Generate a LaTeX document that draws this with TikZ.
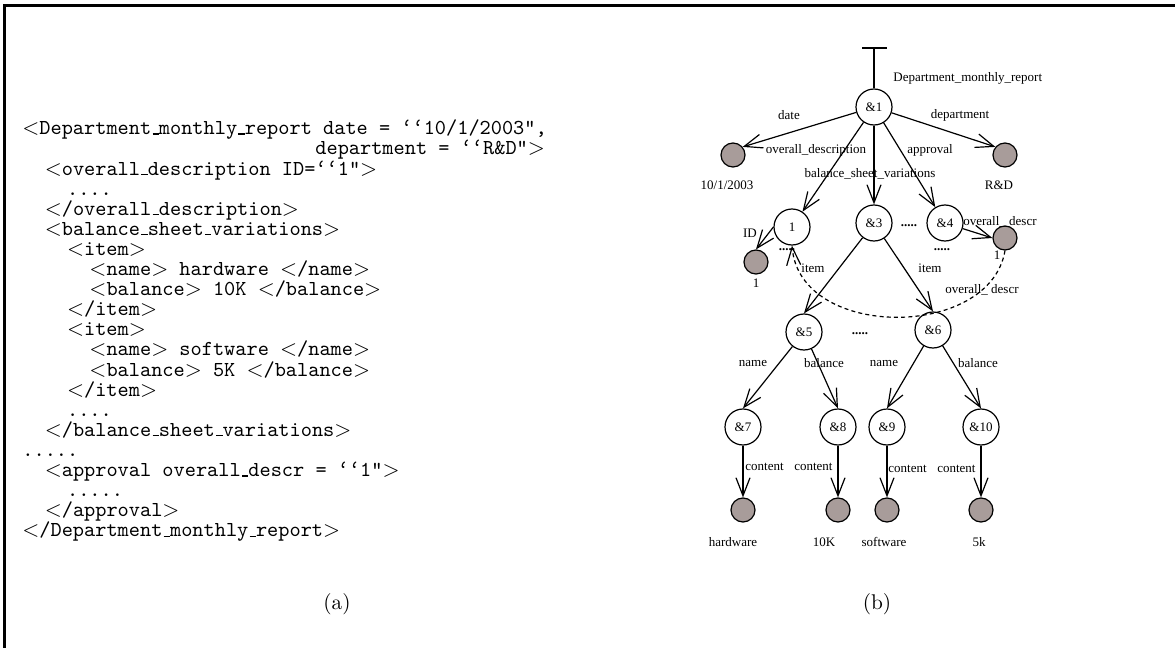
\documentclass[tikz,border=0pt]{standalone}
\usepackage{fontspec}
\usetikzlibrary{arrows.meta}

\newfontfamily\treeserif{Liberation Serif}
\newcommand\treefont{\treeserif\fontsize{6.5pt}{7.5pt}\selectfont}
\newcommand\codefont{\ttfamily\fontsize{10.65pt}{12pt}\selectfont}
\newcommand\capfont{\rmfamily\fontsize{10.65pt}{12pt}\selectfont}
% low rule underscore, as in the OT1 typewriter listing
\newcommand\usc{\leavevmode\kern.06em\vbox{\hrule width.3em height .6pt}}
\definecolor{valgrey}{RGB}{168,156,154}

\tikzset{
  codeline/.style={anchor=base west, inner sep=0pt, font=\codefont},
  obj/.style={circle, draw, line width=0.6pt, minimum size=18pt, inner sep=0pt, font=\treefont},
  val/.style={circle, draw, line width=0.6pt, fill=valgrey, minimum size=12pt, inner sep=0pt},
  lbl/.style={inner sep=0pt, font=\treefont},
  dots/.style={inner sep=0pt, anchor=base, font=\treefont\bfseries},
  edge/.style={line width=0.6pt, -{Straight Barb[length=9pt,width=7pt]}},
  ref/.style={edge, dash pattern=on 2pt off 1.6pt},
  caption/.style={inner sep=0pt, font=\capfont},
}

\begin{document}
\begin{tikzpicture}[x=0.5pt, y=-0.5pt]
\useasboundingbox (0,0) rectangle (1175,648);

% frame
\draw[line width=1.2pt] (4.5,648) -- (4.5,5.5) -- (1175,5.5);

% ---------- (a) XML listing ----------
\node[codeline] (l1)  at (22,134.5)  {$<$Department\usc monthly\usc report date = ‘‘10/1/2003",};
\node[codeline] (l2)  at (315,155)   {department = ‘‘R\&D"$>$};
\node[codeline] (l3)  at (44.4,175)  {$<$overall\usc description ID=‘‘1"$>$};
\node[codeline] (l4)  at (66.7,195.1) {....};
\node[codeline] (l5)  at (44.4,215.2) {$<$/overall\usc description$>$};
\node[codeline] (l6)  at (44.4,235.3) {$<$balance\usc sheet\usc variations$>$};
\node[codeline] (l7)  at (66.7,255.4) {$<$item$>$};
\node[codeline] (l8)  at (89.1,275.5) {$<$name$>$ hardware $<$/name$>$};
\node[codeline] (l9)  at (89.1,295.6) {$<$balance$>$ 10K $<$/balance$>$};
\node[codeline] (l10) at (66.7,315.7) {$<$/item$>$};
\node[codeline] (l11) at (66.7,335.8) {$<$item$>$};
\node[codeline] (l12) at (89.1,355.9) {$<$name$>$ software $<$/name$>$};
\node[codeline] (l13) at (89.1,376.0) {$<$balance$>$ 5K $<$/balance$>$};
\node[codeline] (l14) at (66.7,396.1) {$<$/item$>$};
\node[codeline] (l15) at (66.7,416.2) {....};
\node[codeline] (l16) at (44.4,436.3) {$<$/balance\usc sheet\usc variations$>$};
\node[codeline] (l17) at (22,456.4)   {.....};
\node[codeline] (l18) at (44.4,476.5) {$<$approval overall\usc descr = ‘‘1"$>$};
\node[codeline] (l19) at (66.7,496.6) {.....};
\node[codeline] (l20) at (44.4,516.7) {$<$/approval$>$};
\node[codeline] (l21) at (22,536.8)   {$<$/Department\usc monthly\usc report$>$};

\node[caption] (capa) at (337,604) {(a)};

% ---------- (b) object graph ----------
\coordinate (root) at (874,48);
\coordinate (barl) at (862,48);
\coordinate (barr) at (887,48);

\node[obj] (n1) at (874,107) {\&1};
\node[val] (gdate) at (733,155) {};
\node[val] (grd) at (1005,155) {};
\node[obj] (nid) at (792,227) {1};
\node[obj] (n3) at (874,223) {\&3};
\node[obj] (n4) at (945,223) {\&4};
\node[val] (gid) at (756,262) {};
\node[val] (gdescr) at (1005,238) {};
\node[obj] (n5) at (804,332) {\&5};
\node[obj] (n6) at (933,330) {\&6};
\node[obj] (n7) at (743,427) {\&7};
\node[obj] (n8) at (838,427) {\&8};
\node[obj] (n9) at (887,427) {\&9};
\node[obj] (n10) at (981,427) {\&10};
\node[val] (g7) at (743,510) {};
\node[val] (g8) at (838,510) {};
\node[val] (g9) at (887,510) {};
\node[val] (g10) at (981,510) {};

% root stub
\draw[line width=0.6pt] (barl) -- (barr);
\draw[line width=0.6pt] (root) -- (n1);

% edges
\draw[edge] (n1) -- (gdate.40);
\draw[edge] (n1) -- (grd.140);
\draw[edge] (n1) -- (nid);
\draw[edge] (n1) -- (n3);
\draw[edge] (n1) -- (n4);
\draw[edge] (nid.west) -- (gid.north);
\draw[edge] (n4) -- (gdescr.west);
\draw[edge] (n3) -- (n5.north);
\draw[edge] (n3) -- (n6.north);
\draw[edge] (n5) -- (n7.north);
\draw[edge] (n5) -- (n8.north);
\draw[edge] (n6) -- (n9.north);
\draw[edge] (n6) -- (n10.north);
\draw[edge] (n7) -- (g7);
\draw[edge] (n8) -- (g8);
\draw[edge] (n9) -- (g9);
\draw[edge] (n10) -- (g10);
\draw[ref] (gdescr.south) .. controls (990,340) and (800,340) .. (nid.south);

% edge labels
\node[lbl, anchor=west] (tdmr) at (893,78) {Department\_monthly\_report};
\node[lbl] (tdate) at (789,115) {date};
\node[lbl] (tdept) at (960,115) {department};
\node[lbl] (tod) at (816,150) {overall\_description};
\node[lbl] (tappr) at (930,150) {approval};
\node[lbl] (tbsv) at (870,174) {balance\_sheet\_variations};
\node[lbl] (tid) at (750,233) {ID};
\node[lbl] (tod1) at (1000,222) {overall\_\ descr};
\node[lbl] (tod2) at (982,290) {overall\_\ descr};
\node[lbl] (titem1) at (813,268) {item};
\node[lbl] (titem2) at (930,268) {item};
\node[lbl] (tname1) at (753,363) {name};
\node[lbl] (tbal1) at (824,363) {balance};
\node[lbl] (tname2) at (884,363) {name};
\node[lbl] (tbal2) at (978,363) {balance};
\node[lbl, anchor=west] (tc7) at (745,467) {content};
\node[lbl, anchor=east] (tc8) at (833,467) {content};
\node[lbl, anchor=west] (tc9) at (888,469) {content};
\node[lbl, anchor=east] (tc10) at (976,469) {content};

% value labels
\node[lbl] (vdate) at (727,185) {10/1/2003};
\node[lbl] (vrd) at (999,185) {R\&D};
\node[lbl] (vid) at (756,283) {1};
\node[lbl] (vdescr) at (997,255) {1};
\node[lbl] (v7) at (733,542) {hardware};
\node[lbl] (v8) at (824,542) {10K};
\node[lbl] (v9) at (884,542) {software};
\node[lbl] (v10) at (979,542) {5k};

% elided siblings
\node[dots] (d34) at (909,226) {.....};
\node[dots] (did) at (787,250) {.....};
\node[dots] (d4) at (942,250) {.....};
\node[dots] (d56) at (860,334) {.....};

\node[caption] (capb) at (877,604) {(b)};
\end{tikzpicture}
\end{document}
